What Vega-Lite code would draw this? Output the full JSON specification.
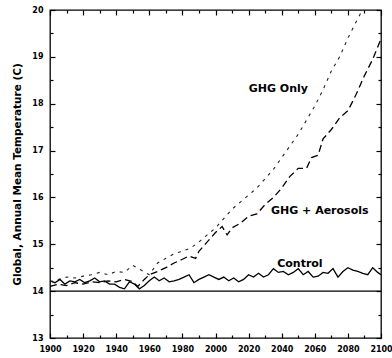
{
  "$schema": "https://vega.github.io/schema/vega-lite/v6.json",
  "width": 331,
  "height": 328,
  "autosize": {"type": "none"},
  "padding": {"left": 50, "top": 10, "right": 11, "bottom": 20},
  "background": "white",
  "config": {
    "view": {"stroke": "black", "strokeWidth": 1.3},
    "font": "DejaVu Sans",
    "axis": {"labelFont": "DejaVu Sans", "labelFontWeight": "bold", "labelFontSize": 8, "labelColor": "black", "tickColor": "black", "tickWidth": 1.2, "domain": false, "grid": false, "titleFont": "DejaVu Sans", "titleFontWeight": "bold", "titleColor": "black"}
  },
  "datasets": {
    "baseline": [{"year": 1900, "temp": 14.0}, {"year": 2100, "temp": 14.0}],
    "control": [
      {"year": 1900, "temp": 14.22}, {"year": 1903, "temp": 14.18}, {"year": 1906, "temp": 14.25}, {"year": 1909, "temp": 14.15}, {"year": 1912, "temp": 14.22}, {"year": 1915, "temp": 14.2}, {"year": 1918, "temp": 14.25}, {"year": 1921, "temp": 14.18}, {"year": 1924, "temp": 14.22}, {"year": 1927, "temp": 14.28}, {"year": 1930, "temp": 14.2}, {"year": 1933, "temp": 14.22}, {"year": 1936, "temp": 14.15}, {"year": 1939, "temp": 14.15}, {"year": 1942, "temp": 14.08}, {"year": 1945, "temp": 14.05}, {"year": 1948, "temp": 14.2}, {"year": 1951, "temp": 14.15}, {"year": 1954, "temp": 14.05}, {"year": 1957, "temp": 14.12}, {"year": 1960, "temp": 14.22}, {"year": 1963, "temp": 14.3}, {"year": 1966, "temp": 14.22}, {"year": 1969, "temp": 14.28}, {"year": 1972, "temp": 14.2}, {"year": 1975, "temp": 14.22}, {"year": 1978, "temp": 14.25}, {"year": 1981, "temp": 14.3}, {"year": 1984, "temp": 14.35}, {"year": 1987, "temp": 14.18}, {"year": 1990, "temp": 14.25}, {"year": 1993, "temp": 14.3}, {"year": 1996, "temp": 14.35}, {"year": 1999, "temp": 14.3}, {"year": 2002, "temp": 14.25}, {"year": 2005, "temp": 14.3}, {"year": 2008, "temp": 14.22}, {"year": 2011, "temp": 14.28}, {"year": 2014, "temp": 14.2}, {"year": 2017, "temp": 14.25}, {"year": 2020, "temp": 14.35}, {"year": 2023, "temp": 14.3}, {"year": 2026, "temp": 14.38}, {"year": 2029, "temp": 14.3}, {"year": 2032, "temp": 14.35}, {"year": 2035, "temp": 14.48}, {"year": 2038, "temp": 14.4}, {"year": 2041, "temp": 14.42}, {"year": 2044, "temp": 14.35}, {"year": 2047, "temp": 14.4}, {"year": 2050, "temp": 14.48}, {"year": 2053, "temp": 14.35}, {"year": 2056, "temp": 14.42}, {"year": 2059, "temp": 14.3}, {"year": 2062, "temp": 14.32}, {"year": 2065, "temp": 14.4}, {"year": 2068, "temp": 14.38}, {"year": 2071, "temp": 14.48}, {"year": 2074, "temp": 14.3}, {"year": 2077, "temp": 14.42}, {"year": 2080, "temp": 14.5}, {"year": 2083, "temp": 14.45}, {"year": 2086, "temp": 14.42}, {"year": 2089, "temp": 14.38}, {"year": 2092, "temp": 14.35}, {"year": 2095, "temp": 14.5}, {"year": 2098, "temp": 14.4}, {"year": 2100, "temp": 14.35}
    ],
    "ghg": [
      {"year": 1900, "temp": 14.2}, {"year": 1905, "temp": 14.25}, {"year": 1910, "temp": 14.3}, {"year": 1915, "temp": 14.28}, {"year": 1920, "temp": 14.32}, {"year": 1925, "temp": 14.35}, {"year": 1930, "temp": 14.4}, {"year": 1935, "temp": 14.35}, {"year": 1940, "temp": 14.42}, {"year": 1945, "temp": 14.4}, {"year": 1950, "temp": 14.55}, {"year": 1955, "temp": 14.45}, {"year": 1960, "temp": 14.35}, {"year": 1965, "temp": 14.6}, {"year": 1970, "temp": 14.7}, {"year": 1975, "temp": 14.8}, {"year": 1980, "temp": 14.85}, {"year": 1985, "temp": 14.92}, {"year": 1990, "temp": 15.05}, {"year": 1995, "temp": 15.2}, {"year": 2000, "temp": 15.35}, {"year": 2005, "temp": 15.55}, {"year": 2010, "temp": 15.75}, {"year": 2015, "temp": 15.9}, {"year": 2020, "temp": 16.05}, {"year": 2025, "temp": 16.2}, {"year": 2030, "temp": 16.4}, {"year": 2035, "temp": 16.6}, {"year": 2040, "temp": 16.85}, {"year": 2045, "temp": 17.1}, {"year": 2050, "temp": 17.35}, {"year": 2055, "temp": 17.65}, {"year": 2060, "temp": 17.95}, {"year": 2065, "temp": 18.3}, {"year": 2070, "temp": 18.7}, {"year": 2075, "temp": 19.0}, {"year": 2080, "temp": 19.4}, {"year": 2085, "temp": 19.75}, {"year": 2088, "temp": 19.95}
    ],
    "aero": [
      {"year": 1900, "temp": 14.1}, {"year": 1905, "temp": 14.15}, {"year": 1910, "temp": 14.12}, {"year": 1915, "temp": 14.18}, {"year": 1920, "temp": 14.15}, {"year": 1925, "temp": 14.2}, {"year": 1930, "temp": 14.18}, {"year": 1935, "temp": 14.22}, {"year": 1940, "temp": 14.2}, {"year": 1945, "temp": 14.25}, {"year": 1950, "temp": 14.2}, {"year": 1953, "temp": 14.1}, {"year": 1957, "temp": 14.25}, {"year": 1960, "temp": 14.35}, {"year": 1965, "temp": 14.42}, {"year": 1970, "temp": 14.5}, {"year": 1975, "temp": 14.6}, {"year": 1980, "temp": 14.68}, {"year": 1984, "temp": 14.75}, {"year": 1988, "temp": 14.7}, {"year": 1990, "temp": 14.85}, {"year": 1995, "temp": 15.05}, {"year": 2000, "temp": 15.25}, {"year": 2004, "temp": 15.38}, {"year": 2007, "temp": 15.2}, {"year": 2010, "temp": 15.35}, {"year": 2015, "temp": 15.45}, {"year": 2020, "temp": 15.6}, {"year": 2025, "temp": 15.65}, {"year": 2030, "temp": 15.85}, {"year": 2035, "temp": 16.0}, {"year": 2040, "temp": 16.2}, {"year": 2045, "temp": 16.45}, {"year": 2050, "temp": 16.62}, {"year": 2055, "temp": 16.62}, {"year": 2058, "temp": 16.85}, {"year": 2062, "temp": 16.9}, {"year": 2065, "temp": 17.25}, {"year": 2070, "temp": 17.45}, {"year": 2075, "temp": 17.7}, {"year": 2080, "temp": 17.85}, {"year": 2085, "temp": 18.2}, {"year": 2090, "temp": 18.6}, {"year": 2095, "temp": 18.95}, {"year": 2100, "temp": 19.38}
    ],
    "labels": [
      {"year": 2038, "temp": 18.31, "label": "GHG Only"},
      {"year": 2063, "temp": 15.71, "label": "GHG + Aerosols"},
      {"year": 2051, "temp": 14.58, "label": "Control"}
    ]
  },
  "layer": [
    {
      "data": {"name": "baseline"},
      "mark": {"type": "line", "color": "black", "strokeWidth": 1.3},
      "encoding": {
        "x": {"field": "year", "type": "quantitative", "scale": {"domain": [1900, 2100], "nice": false, "zero": false},
              "axis": {"orient": "bottom", "values": [1900, 1920, 1940, 1960, 1980, 2000, 2020, 2040, 2060, 2080, 2100], "format": "d", "tickSize": -5, "labelPadding": 12, "title": null, "labelFlush": false}},
        "y": {"field": "temp", "type": "quantitative", "scale": {"domain": [13, 20], "nice": false, "zero": false},
              "axis": {"orient": "left", "values": [13, 14, 15, 16, 17, 18, 19, 20], "tickSize": -5, "labelPadding": 12, "title": "Global, Annual Mean Temperature (C)", "titleFontSize": 10.5, "titlePadding": 9}}
      }
    },
    {
      "data": {"name": "control"},
      "mark": {"type": "line", "color": "black", "strokeWidth": 1.3},
      "encoding": {
        "x": {"field": "year", "type": "quantitative", "axis": {"orient": "bottom", "values": [1910, 1930, 1950, 1970, 1990, 2010, 2030, 2050, 2070, 2090], "tickSize": -3, "labels": false, "title": null}},
        "y": {"field": "temp", "type": "quantitative", "axis": {"orient": "left", "values": [13.5, 14.5, 15.5, 16.5, 17.5, 18.5, 19.5], "tickSize": -3, "labels": false, "title": null}}
      }
    },
    {
      "data": {"name": "ghg"},
      "mark": {"type": "line", "color": "#222", "strokeWidth": 1.1, "strokeDash": [3, 5]},
      "encoding": {
        "x": {"field": "year", "type": "quantitative", "axis": {"orient": "top", "values": [1900, 1920, 1940, 1960, 1980, 2000, 2020, 2040, 2060, 2080, 2100], "tickSize": -5, "labels": false, "title": null}},
        "y": {"field": "temp", "type": "quantitative", "axis": {"orient": "right", "values": [13, 14, 15, 16, 17, 18, 19, 20], "tickSize": -5, "labels": false, "title": null}}
      }
    },
    {
      "data": {"name": "aero"},
      "mark": {"type": "line", "color": "black", "strokeWidth": 1.3, "strokeDash": [7, 4]},
      "encoding": {
        "x": {"field": "year", "type": "quantitative", "axis": {"orient": "top", "values": [1910, 1930, 1950, 1970, 1990, 2010, 2030, 2050, 2070, 2090], "tickSize": -3, "labels": false, "title": null}},
        "y": {"field": "temp", "type": "quantitative", "axis": {"orient": "right", "values": [13.5, 14.5, 15.5, 16.5, 17.5, 18.5, 19.5], "tickSize": -3, "labels": false, "title": null}}
      }
    },
    {
      "data": {"name": "labels"},
      "mark": {"type": "text", "font": "DejaVu Sans", "fontWeight": "bold", "fontSize": 11, "color": "black"},
      "encoding": {
        "x": {"field": "year", "type": "quantitative", "axis": null},
        "y": {"field": "temp", "type": "quantitative", "axis": null},
        "text": {"field": "label"}
      }
    }
  ],
  "resolve": {"axis": {"x": "independent", "y": "independent"}}
}
